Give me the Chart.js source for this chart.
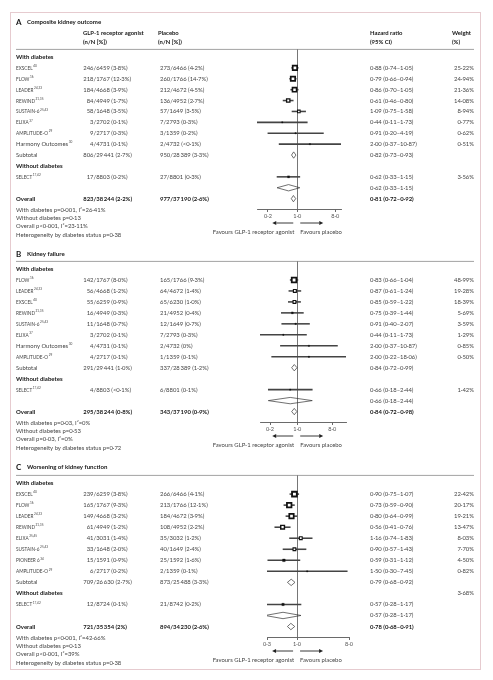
<!DOCTYPE html>
<html>
<head>
<meta charset="utf-8">
<script src="https://cdn.jsdelivr.net/npm/chart.js@4/dist/chart.umd.min.js"></script>
<style>
html, body { margin:0; padding:0; background:#fff; }
#page { position:relative; width:493px; height:680px; }
#frame { position:absolute; left:10px; top:12px; width:469px; height:656px; border:1px solid #e6cbcf; }
.panel { position:absolute; left:0; width:493px; }
</style>
</head>
<body>
<div id="page">
  <div id="frame"></div>
  <div class="panel" style="top:12px;height:230px"><canvas id="chartA"></canvas></div>
  <div class="panel" style="top:242px;height:218px"><canvas id="chartB"></canvas></div>
  <div class="panel" style="top:460px;height:208px"><canvas id="chartC"></canvas></div>
</div>
<script>
// same row layout in all three panels
var rowKinds = ['group','study','study','study','study','study','study','study','study','subtotal','group','study','pooled','overall'];

// ---- A: composite kidney outcome
var aLabels = ['With diabetes','EXSCEL','FLOW','LEADER','REWIND','SUSTAIN-6','ELIXA','AMPLITUDE-O','Harmony Outcomes','Subtotal','Without diabetes','SELECT','','Overall'];
var aRefs = ['','40','16','24,33','21,35','25,43','37','29','30','','','17,42','',''];
var aGlp = ['','246/6459 (3·8%)','218/1767 (12·3%)','184/4668 (3·9%)','84/4949 (1·7%)','58/1648 (3·5%)','3/2702 (0·1%)','9/2717 (0·3%)','4/4731 (0·1%)','806/29\u2009441 (2·7%)','','17/8803 (0·2%)','','823/38\u2009244 (2·2%)'];
var aPlacebo = ['','273/6466 (4·2%)','260/1766 (14·7%)','212/4672 (4·5%)','136/4952 (2·7%)','57/1649 (3·5%)','7/2793 (0·3%)','3/1359 (0·2%)','2/4732 (<0·1%)','950/28\u2009389 (3·3%)','','27/8801 (0·3%)','','977/37\u2009190 (2·6%)'];
var aHr = [null,0.88,0.79,0.86,0.61,1.09,0.44,0.91,2.00,0.82,null,0.62,0.62,0.81];
var aLo = [null,0.74,0.66,0.70,0.46,0.75,0.11,0.20,0.37,0.73,null,0.33,0.33,0.72];
var aHi = [null,1.05,0.94,1.05,0.80,1.58,1.73,4.19,10.87,0.93,null,1.15,1.15,0.92];
var aWeight = [null,25.22,24.94,21.36,14.08,8.94,0.77,0.62,0.51,null,null,3.56,null,null];
var aStats = ['With diabetes p=0·001, I²=26·41%','Without diabetes p=0·13','Overall p<0·001, I²=23·11%','Heterogeneity by diabetes status p=0·38'];
var aTicks = [0.2, 1, 8];

// ---- B: kidney failure
var bLabels = ['With diabetes','FLOW','LEADER','EXSCEL','REWIND','SUSTAIN-6','ELIXA','Harmony Outcomes','AMPLITUDE-O','Subtotal','Without diabetes','SELECT','','Overall'];
var bRefs = ['','16','24,33','40','21,35','25,43','37','30','29','','','17,42','',''];
var bGlp = ['','142/1767 (8·0%)','56/4668 (1·2%)','55/6259 (0·9%)','16/4949 (0·3%)','11/1648 (0·7%)','3/2702 (0·1%)','4/4731 (0·1%)','4/2717 (0·1%)','291/29\u2009441 (1·0%)','','4/8803 (<0·1%)','','295/38\u2009244 (0·8%)'];
var bPlacebo = ['','165/1766 (9·3%)','64/4672 (1·4%)','65/6230 (1·0%)','21/4952 (0·4%)','12/1649 (0·7%)','7/2793 (0·3%)','2/4732 (0%)','1/1359 (0·1%)','337/28\u2009389 (1·2%)','','6/8801 (0·1%)','','343/37\u2009190 (0·9%)'];
var bHr = [null,0.83,0.87,0.85,0.75,0.91,0.44,2.00,2.00,0.84,null,0.66,0.66,0.84];
var bLo = [null,0.66,0.61,0.59,0.39,0.40,0.11,0.37,0.22,0.72,null,0.18,0.18,0.72];
var bHi = [null,1.04,1.24,1.22,1.44,2.07,1.73,10.87,18.06,0.99,null,2.44,2.44,0.98];
var bWeight = [null,48.99,19.28,18.39,5.69,3.59,1.29,0.85,0.50,null,null,1.42,null,null];
var bStats = ['With diabetes p=0·03, I²=0%','Without diabetes p=0·53','Overall p=0·03, I²=0%','Heterogeneity by diabetes status p=0·72'];
var bTicks = [0.2, 1, 8];

// ---- C: worsening of kidney function
var cLabels = ['With diabetes','EXSCEL','FLOW','LEADER','REWIND','ELIXA','SUSTAIN-6','PIONEER 6','AMPLITUDE-O','Subtotal','Without diabetes','SELECT','','Overall'];
var cRefs = ['','40','16','24,33','21,35','25,45','25,43','34','29','','','17,42','',''];
var cGlp = ['','239/6259 (3·8%)','165/1767 (9·3%)','149/4668 (3·2%)','61/4949 (1·2%)','41/3031 (1·4%)','33/1648 (2·0%)','15/1591 (0·9%)','6/2717 (0·2%)','709/26\u2009630 (2·7%)','','12/8724 (0·1%)','','721/35\u2009354 (2%)'];
var cPlacebo = ['','266/6466 (4·1%)','213/1766 (12·1%)','184/4672 (3·9%)','108/4952 (2·2%)','35/3032 (1·2%)','40/1649 (2·4%)','25/1592 (1·6%)','2/1359 (0·1%)','873/25\u2009488 (3·3%)','','21/8742 (0·2%)','','894/34\u2009230 (2·6%)'];
var cHr = [null,0.90,0.73,0.80,0.56,1.16,0.90,0.59,1.50,0.79,null,0.57,0.57,0.78];
var cLo = [null,0.75,0.59,0.64,0.41,0.74,0.57,0.31,0.30,0.68,null,0.28,0.28,0.68];
var cHi = [null,1.07,0.90,0.99,0.76,1.83,1.43,1.12,7.45,0.92,null,1.17,1.17,0.91];
var cWeight = [null,22.42,20.17,19.21,13.47,8.03,7.70,4.50,0.82,null,3.68,null,null,null];
var cStats = ['With diabetes p<0·001, I²=42·66%','Without diabetes p=0·13','Overall p<0·001, I²=39%','Heterogeneity by diabetes status p=0·38'];
var cTicks = [0.3, 1, 8];

var FONT = 'Lato';
var TXT = '#454545';
var DARK = '#161616';

function fmt(v) { return v.toFixed(2).replace('.', '·'); }

var panels = [
  { id:'chartA', letter:'A', title:'Composite kidney outcome', header:true, titleGap:27,
    labels:aLabels, refs:aRefs, glp:aGlp, placebo:aPlacebo, hr:aHr, lo:aLo, hi:aHi, weight:aWeight, stats:aStats, ticks:aTicks,
    min:0.11, max:11, k:1.23, pad:{ top:37, bottom:21, left:257, right:152 } },
  { id:'chartB', letter:'B', title:'Kidney failure', header:false, titleGap:7,
    labels:bLabels, refs:bRefs, glp:bGlp, placebo:bPlacebo, hr:bHr, lo:bLo, hi:bHi, weight:bWeight, stats:bStats, ticks:bTicks,
    min:0.11, max:18.06, k:0.92, pad:{ top:19, bottom:26, left:260, right:147 } },
  { id:'chartC', letter:'C', title:'Worsening of kidney function', header:false, titleGap:8,
    labels:cLabels, refs:cRefs, glp:cGlp, placebo:cPlacebo, hr:cHr, lo:cLo, hi:cHi, weight:cWeight, stats:cStats, ticks:cTicks,
    min:0.3, max:8, k:1.4, pad:{ top:15, bottom:19, left:267, right:144 } }
];

// size of a study square (outer edge, px) from its weight
function squareSize(p, w) { return Math.max(1.6, p.k * Math.sqrt(w)); }

function makeText(p) {
  return {
    id: 'forestText_' + p.id,
    afterDraw: function(chart) {
      var ctx = chart.ctx, area = chart.chartArea, x = chart.scales.x, y = chart.scales.y;
      var top = area.top, bottom = area.bottom;
      ctx.save();
      ctx.textBaseline = 'alphabetic';
      ctx.fillStyle = DARK;

      // title
      ctx.textAlign = 'left';
      ctx.font = 'bold 8px ' + FONT;
      ctx.fillText(p.letter, 16, top - p.titleGap + 3);
      ctx.font = 'bold 6.1px ' + FONT;
      ctx.fillText(p.title, 27, top - p.titleGap + 2.2);

      if (p.header) {
        ctx.font = 'bold 5.9px ' + FONT;
        ctx.fillText('GLP-1 receptor agonist', 83, top - 14);
        ctx.fillText('(n/N [%])', 83, top - 5);
        ctx.fillText('Placebo', 158, top - 14);
        ctx.fillText('(n/N [%])', 158, top - 5);
        ctx.fillText('Hazard ratio', 370, top - 14);
        ctx.fillText('(95% CI)', 370, top - 5);
        ctx.fillText('Weight', 452, top - 14);
        ctx.fillText('(%)', 452, top - 5);
      }

      // rule under header
      ctx.strokeStyle = '#8a8a8a';
      ctx.lineWidth = 0.8;
      ctx.beginPath();
      ctx.moveTo(16, top + 0.4);
      ctx.lineTo(474, top + 0.4);
      ctx.stroke();

      for (var i = 0; i < p.labels.length; i++) {
        var yy = y.getPixelForValue(i) + 2;
        var kind = rowKinds[i];
        var bold = kind === 'group' || kind === 'overall';
        var lab = p.labels[i];
        ctx.textAlign = 'left';
        if (lab) {
          if (bold) { ctx.font = 'bold 6px ' + FONT; ctx.fillStyle = DARK; }
          else if (lab === lab.toUpperCase()) { ctx.font = '4.7px ' + FONT; ctx.fillStyle = TXT; }
          else { ctx.font = '5.9px ' + FONT; ctx.fillStyle = TXT; }
          ctx.fillText(lab, 16, yy);
          if (p.refs[i]) {
            var lw = ctx.measureText(lab).width;
            ctx.font = '3.1px ' + FONT;
            ctx.fillText(p.refs[i], 16 + lw + 0.6, yy - 2.8);
          }
        }
        var numFont = (kind === 'overall' ? 'bold ' : '') + '5.9px ' + FONT;
        ctx.font = numFont;
        ctx.fillStyle = kind === 'overall' ? DARK : TXT;
        var g = p.glp[i];
        if (g) {
          var s = g.indexOf('/');
          ctx.textAlign = 'right';
          ctx.fillText(g.slice(0, s), 93.5, yy);
          ctx.textAlign = 'left';
          ctx.fillText(g.slice(s), 93.5, yy);
        }
        if (p.placebo[i]) { ctx.textAlign = 'left'; ctx.fillText(p.placebo[i], 160, yy); }
        if (p.hr[i] != null) {
          ctx.textAlign = 'left';
          ctx.fillText(fmt(p.hr[i]) + ' (' + fmt(p.lo[i]) + '–' + fmt(p.hi[i]) + ')', 370, yy);
        }
        if (p.weight[i] != null) {
          ctx.font = '5.9px ' + FONT;
          ctx.fillStyle = TXT;
          ctx.textAlign = 'right';
          ctx.fillText(fmt(p.weight[i]) + '%', 474, yy);
        }
      }

      // heterogeneity notes
      ctx.font = '5.9px ' + FONT;
      ctx.fillStyle = TXT;
      ctx.textAlign = 'left';
      for (var j = 0; j < p.stats.length; j++) {
        ctx.fillText(p.stats[j], 16, bottom + 2.5 + j * 8.4);
      }

      // favours arrows
      var p1 = x.getPixelForValue(1);
      var ay = bottom + 14;
      ctx.strokeStyle = '#222';
      ctx.fillStyle = '#222';
      ctx.lineWidth = 0.9;
      ctx.beginPath();
      ctx.moveTo(p1 - 4, ay); ctx.lineTo(p1 - 21, ay);
      ctx.moveTo(p1 + 3, ay); ctx.lineTo(p1 + 22, ay);
      ctx.stroke();
      ctx.beginPath();
      ctx.moveTo(p1 - 25, ay); ctx.lineTo(p1 - 21, ay - 2); ctx.lineTo(p1 - 21, ay + 2); ctx.closePath();
      ctx.moveTo(p1 + 26, ay); ctx.lineTo(p1 + 22, ay - 2); ctx.lineTo(p1 + 22, ay + 2); ctx.closePath();
      ctx.fill();
      ctx.font = '5.9px ' + FONT;
      ctx.fillStyle = TXT;
      ctx.textAlign = 'right';
      ctx.fillText('Favours GLP-1 receptor agonist', p1 - 3, bottom + 24.5);
      ctx.textAlign = 'left';
      ctx.fillText('Favours placebo', p1 + 3, bottom + 24.5);
      ctx.restore();
    }
  };
}

function drawPanel(p) {
  var markerPts = [], ciBars = [], diamonds = [];
  for (var i = 0; i < rowKinds.length; i++) {
    var kind = rowKinds[i];
    if (kind === 'study') {
      var w = p.weight[i] != null ? p.weight[i] : p.weight[i - 1];
      markerPts.push({ x: p.hr[i], y: i, w: w });
      ciBars.push({ x: [p.lo[i], p.hi[i]], y: i });
    } else if (kind === 'subtotal' || kind === 'pooled' || kind === 'overall') {
      diamonds.push({
        type: 'line',
        data: [{ x: p.lo[i], y: i }, { x: p.hr[i], y: i - 0.29 }, { x: p.hi[i], y: i }, { x: p.hr[i], y: i + 0.29 }, { x: p.lo[i], y: i }],
        borderColor: '#333',
        borderWidth: 0.7,
        pointRadius: 0,
        fill: false,
        tension: 0
      });
    }
  }

  var datasets = [{
    type: 'scatter',
    data: markerPts,
    pointStyle: 'rect',
    pointRadius: function(c) {
      var o = squareSize(p, c.raw.w);
      var bw = o > 3.6 ? o * 0.28 : 0.3;
      return (o - bw) / Math.SQRT2;
    },
    pointBorderWidth: function(c) {
      var o = squareSize(p, c.raw.w);
      return o > 3.6 ? o * 0.28 : 0.3;
    },
    pointBackgroundColor: function(c) { return squareSize(p, c.raw.w) > 3.6 ? '#fff' : '#111'; },
    pointBorderColor: '#111'
  }, {
    type: 'bar',
    data: ciBars,
    backgroundColor: '#444',
    borderWidth: 0,
    barThickness: 0.9,
    grouped: false
  }].concat(diamonds);

  new Chart(document.getElementById(p.id), {
    type: 'bar',
    data: { datasets: datasets },
    options: {
      indexAxis: 'y',
      responsive: true,
      maintainAspectRatio: false,
      animation: false,
      events: [],
      layout: { padding: p.pad },
      plugins: { legend: { display: false }, tooltip: { enabled: false } },
      scales: {
        x: {
          type: 'logarithmic',
          min: p.min,
          max: p.max,
          afterBuildTicks: function(s) { s.ticks = p.ticks.map(function(v) { return { value: v }; }); },
          afterFit: function(s) { s.height = 12; },
          ticks: {
            autoSkip: false,
            maxRotation: 0,
            padding: 1,
            color: '#555',
            font: { family: FONT, size: 5.6 },
            callback: function(v) { return Number(v).toFixed(1).replace('.', '·'); }
          },
          grid: {
            color: function(c) { return c.tick && c.tick.value === 1 ? '#666' : 'rgba(0,0,0,0)'; },
            lineWidth: 0.9,
            tickColor: '#444',
            tickWidth: 0.8,
            tickLength: 3
          },
          border: { display: true, color: '#444', width: 0.8 }
        },
        y: {
          type: 'linear',
          reverse: true,
          min: -0.73,
          max: 13.95,
          offset: false,
          display: false,
          grid: { display: false }
        }
      }
    },
    plugins: [makeText(p)]
  });
}

panels.forEach(drawPanel);
</script>
</body>
</html>
